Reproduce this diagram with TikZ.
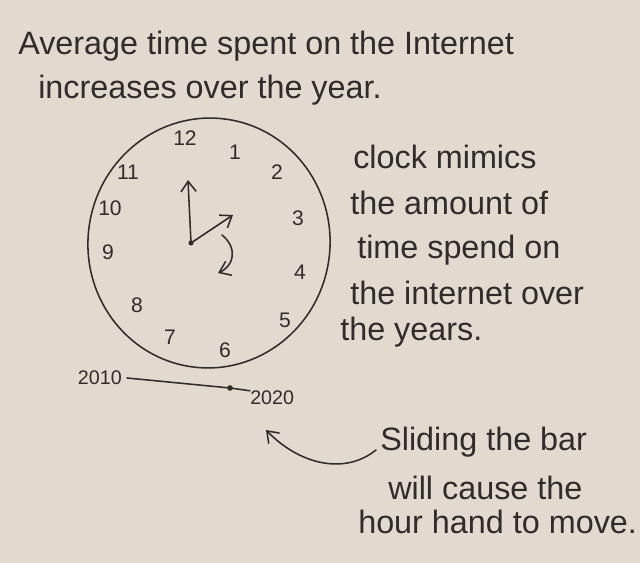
\documentclass[tikz,border=0pt]{standalone}
\usepackage{fontspec}
\setmainfont{Liberation Sans}
\usetikzlibrary{arrows.meta}
\definecolor{paper}{RGB}{226,218,206}
\definecolor{ink}{RGB}{48,44,44}
\tikzset{
  note/.style={text=ink, font=\fontsize{23}{26}\selectfont, inner sep=0pt, anchor=west},
  hournum/.style={text=ink, font=\fontsize{15}{17}\selectfont, inner sep=0pt},
  yearlabel/.style={text=ink, font=\fontsize{14}{16}\selectfont, inner sep=0pt},
  pen/.style={draw=ink, line width=1.1pt, line cap=round, line join=round},
  hand/.style={pen, -{Straight Barb[length=2.6mm, width=3.8mm]}}
}

\begin{document}
\begin{tikzpicture}[x=0.025cm, y=-0.025cm]
  \fill[paper] (0,0) rectangle (640,563);
  \useasboundingbox (0,0) rectangle (640,563);

  % heading
  \node[note] (head1) at (18,46) {Average time spent on the Internet};
  \node[note] (head2) at (38,90) {increases over the year.};

  % clock face
  \draw[pen, rotate around={-8:(209,243)}] (209,243) ellipse [x radius=121, y radius=125];
  \foreach \x/\y/\num in {185/138/12, 235/152/1, 277/172/2, 298/218/3,
      300/272/4, 285/320/5, 225/350/6, 170/337/7, 137/305/8, 108/252/9,
      110/208/10, 128/172/11}
    \node[hournum] (hour\num) at (\x,\y) {\num};

  % hands
  \coordinate (pivot) at (191,243);
  \coordinate (minutetip) at (188,180);
  \coordinate (hourtip) at (233,215);
  \draw[hand] (pivot) -- (minutetip);
  \draw[hand] (pivot) -- (hourtip);
  \fill[ink] (pivot) circle[radius=1.8pt];
  \coordinate (turnstart) at (222,235);
  \coordinate (turnend) at (218,273);
  \draw[hand] (turnstart) .. controls (238,248) and (234,266) .. (turnend);

  % explanation
  \node[note] (expl1) at (353,157) {clock mimics};
  \node[note] (expl2) at (350,203) {the amount of};
  \node[note] (expl3) at (357,250) {time spend on};
  \node[note] (expl4) at (350,293) {the internet over};
  \node[note] (expl5) at (340,332) {the years.};

  % slider
  \node[yearlabel, anchor=east] (start) at (122,378) {2010};
  \node[yearlabel, anchor=west] (end) at (250,398) {2020};
  \coordinate (knob) at (230,388);
  \draw[pen] (start.east) ++(5,0) -- (knob) -- (end.north west);
  \fill[ink] (knob) circle[radius=2pt];

  % slider note
  \node[note] (slide1) at (380,442) {Sliding the bar};
  \node[note] (slide2) at (388,488) {will cause the};
  \node[note] (slide3) at (358,522) {hour hand to move.};
  \coordinate (slidetip) at (266,430);
  \draw[hand] (slide1.west) ++(-4,8) .. controls (345,475) and (300,465) .. (slidetip);
\end{tikzpicture}
\end{document}
